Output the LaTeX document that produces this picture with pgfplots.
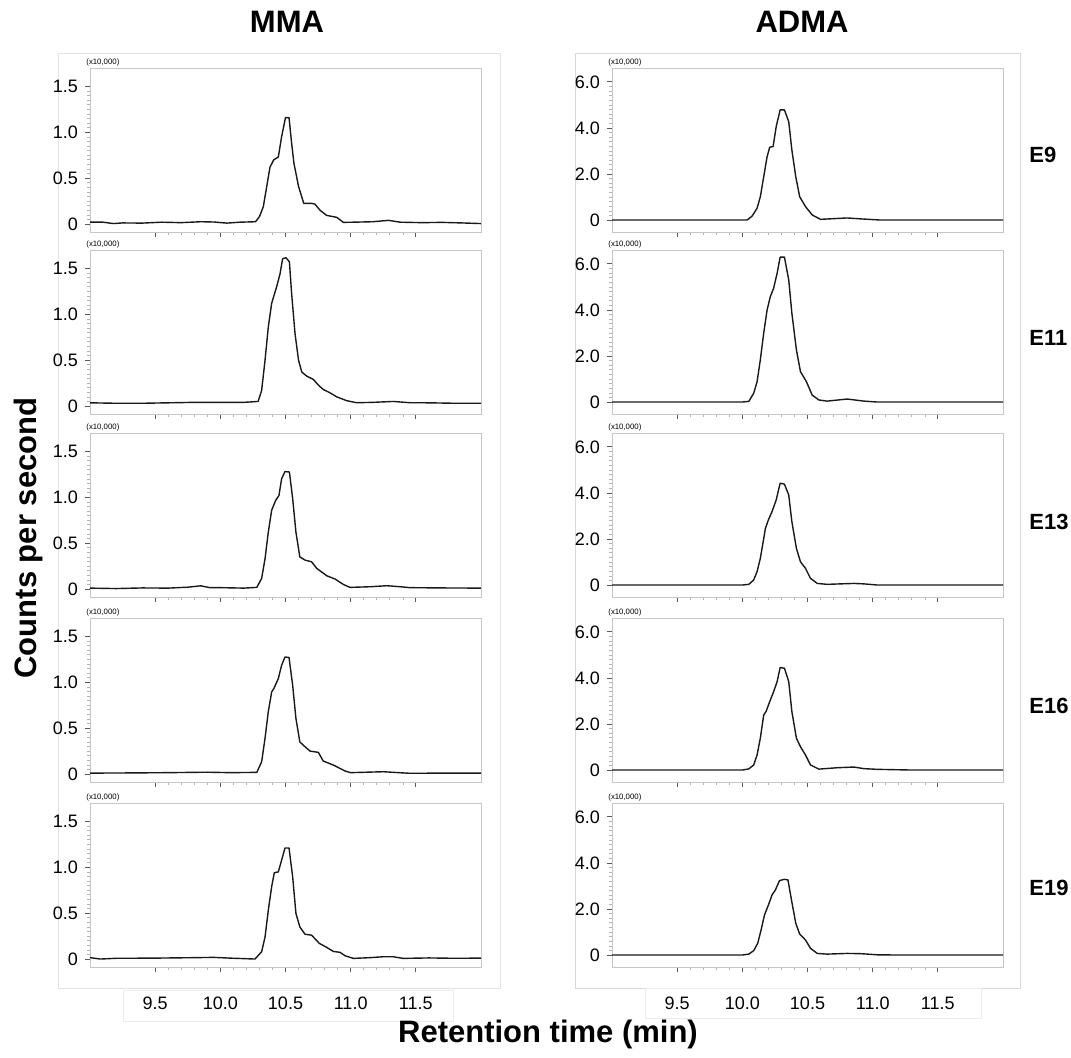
\documentclass[border=0pt]{standalone}
\usepackage{fontspec}
\setmainfont{Liberation Sans}
\usepackage{pgfplots}
\pgfplotsset{compat=1.18}

\pgfplotsset{
  chrom/.style={
    scale only axis, width=195.5pt, height=82pt,
    xmin=9, xmax=12,
    xtick={9.5,10,10.5,11,11.5}, minor x tick num=4,
    xticklabels={}, xtick pos=lower, ytick pos=left,
    tick align=outside,
    major tick length=2.5pt, minor tick length=1.4pt,
    axis line style={gray!45},
    tick style={gray!70!black, line width=0.35pt},
    minor tick style={gray!60, line width=0.3pt},
    clip=false,
    /pgf/number format/assume math mode=true,
    tick label style={font=\fontsize{9}{10}\selectfont, text=black},
    every axis plot post/.append style={black!90, line width=0.7pt, mark=none, line join=round},
  },
  mma/.style={ymin=-0.087, ymax=1.70, ytick={0,0.5,1,1.5},
    yticklabels={0,0.5,1.0,1.5}, minor y tick num=9},
  adma/.style={ymin=-0.52, ymax=6.6, ytick={0,2,4,6},
    yticklabels={0,2.0,4.0,6.0}, minor y tick num=9},
  bottomrow/.style={xticklabels={9.5,10.0,10.5,11.0,11.5},
    xticklabel style={yshift=-9pt}},
}
\newcommand{\tenk}{\node[anchor=south west, inner sep=0pt, xshift=-2pt, yshift=0.6pt,
  font=\fontsize{3.9}{4}\selectfont] at (rel axis cs:0,1) {(x10,000)};}

\begin{document}
\begin{tikzpicture}
\path[use as bounding box] (0,0) rectangle (535.5pt,-528.5pt);

% faint frames
\draw[gray!22, line width=0.4pt] (29pt,-26.5pt) rectangle (250pt,-494pt);
\draw[gray!30, line width=0.5pt] (287.5pt,-26.5pt) rectangle (510pt,-494pt);
\draw[gray!15, line width=0.4pt, fill=white] (61.5pt,-495pt) rectangle (226.5pt,-510.5pt);
\draw[gray!15, line width=0.4pt, fill=white] (322.5pt,-494pt) rectangle (490.5pt,-509pt);

% ---------------- MMA column ----------------
\begin{axis}[chrom, mma, at={(45pt,-116pt)}, anchor=south west]
\addplot coordinates {
(9.00,0.02) (9.10,0.02) (9.18,0.005) (9.25,0.012) (9.40,0.01) (9.55,0.02)
(9.70,0.015) (9.85,0.025) (9.95,0.022) (10.05,0.01) (10.10,0.015) (10.15,0.02)
(10.27,0.025) (10.30,0.08) (10.33,0.19) (10.356,0.41) (10.381,0.62) (10.41,0.70)
(10.445,0.73) (10.47,0.95) (10.50,1.16) (10.527,1.16) (10.547,0.88) (10.565,0.66)
(10.60,0.41) (10.64,0.225) (10.70,0.225) (10.726,0.217) (10.765,0.15) (10.816,0.094)
(10.893,0.073) (10.944,0.018) (11.02,0.02) (11.17,0.025) (11.29,0.04) (11.38,0.02)
(11.55,0.015) (11.70,0.018) (11.85,0.012) (12.00,0.005)
};
\tenk
\end{axis}

\begin{axis}[chrom, mma, at={(45pt,-207pt)}, anchor=south west]
\addplot coordinates {
(9.00,0.035) (9.2,0.03) (9.4,0.03) (9.6,0.035) (9.8,0.04) (10.0,0.04)
(10.18,0.04) (10.29,0.05) (10.317,0.17) (10.343,0.50) (10.368,0.86) (10.394,1.12)
(10.432,1.30) (10.458,1.44) (10.478,1.605) (10.504,1.616) (10.53,1.57) (10.547,1.225)
(10.573,0.79) (10.60,0.50) (10.625,0.37) (10.663,0.326) (10.714,0.29) (10.752,0.228)
(10.79,0.18) (10.84,0.145) (10.893,0.10) (10.97,0.058) (11.046,0.036) (11.17,0.04)
(11.327,0.05) (11.455,0.036) (11.6,0.035) (11.8,0.03) (12.0,0.03)
};
\tenk
\end{axis}

\begin{axis}[chrom, mma, at={(45pt,-298.5pt)}, anchor=south west]
\addplot coordinates {
(9.00,0.01) (9.2,0.005) (9.4,0.012) (9.6,0.01) (9.75,0.02) (9.85,0.035)
(9.92,0.015) (10.0,0.015) (10.18,0.01) (10.28,0.018) (10.317,0.116) (10.343,0.33)
(10.368,0.62) (10.394,0.86) (10.425,0.967) (10.45,1.02) (10.47,1.20) (10.496,1.28)
(10.53,1.275) (10.555,0.985) (10.58,0.62) (10.61,0.35) (10.65,0.315) (10.70,0.297)
(10.74,0.225) (10.816,0.145) (10.88,0.109) (10.944,0.05) (10.995,0.018) (11.15,0.025)
(11.277,0.036) (11.38,0.025) (11.455,0.015) (11.7,0.012) (12.0,0.01)
};
\tenk
\end{axis}

\begin{axis}[chrom, mma, at={(45pt,-391pt)}, anchor=south west]
\addplot coordinates {
(9.0,0.01) (9.3,0.012) (9.6,0.015) (9.9,0.02) (10.074,0.015) (10.28,0.018)
(10.317,0.134) (10.343,0.39) (10.368,0.68) (10.394,0.895) (10.41,0.93) (10.445,1.04)
(10.47,1.185) (10.496,1.275) (10.527,1.27) (10.555,0.967) (10.58,0.605) (10.61,0.35)
(10.65,0.297) (10.688,0.25) (10.752,0.236) (10.79,0.141) (10.867,0.098) (10.957,0.033)
(11.0,0.015) (11.25,0.025) (11.455,0.008) (11.7,0.01) (12.0,0.01)
};
\tenk
\end{axis}

\begin{axis}[chrom, mma, bottomrow, at={(45pt,-483.5pt)}, anchor=south west]
\addplot coordinates {
(9.0,0.015) (9.08,0.0) (9.2,0.008) (9.5,0.01) (9.8,0.015) (9.95,0.018)
(10.074,0.01) (10.266,0.0) (10.317,0.08) (10.343,0.24) (10.368,0.53) (10.394,0.79)
(10.414,0.94) (10.445,0.95) (10.47,1.076) (10.496,1.21) (10.527,1.21) (10.555,0.895)
(10.58,0.497) (10.61,0.35) (10.65,0.27) (10.70,0.26) (10.76,0.17) (10.816,0.127)
(10.867,0.083) (10.918,0.073) (10.957,0.036) (11.02,0.007) (11.15,0.015) (11.25,0.025)
(11.327,0.025) (11.40,0.007) (11.6,0.012) (11.8,0.008) (12.0,0.01)
};
\tenk
\end{axis}

% ---------------- ADMA column ----------------
\begin{axis}[chrom, adma, at={(306pt,-116pt)}, anchor=south west]
\addplot coordinates {
(9.0,0) (9.83,0) (10.036,0) (10.075,0.17) (10.113,0.51) (10.138,1.01)
(10.164,1.88) (10.19,2.75) (10.21,3.16) (10.236,3.19) (10.26,4.06) (10.29,4.78)
(10.323,4.78) (10.356,4.27) (10.38,3.04) (10.41,1.88) (10.44,1.01) (10.485,0.58)
(10.536,0.22) (10.60,0.03) (10.70,0.06) (10.805,0.09) (10.908,0.05) (11.06,0.0) (12.0,0)
};
\tenk
\end{axis}

\begin{axis}[chrom, adma, at={(306pt,-207pt)}, anchor=south west]
\addplot coordinates {
(9.0,0) (10.0,0) (10.05,0.03) (10.087,0.38) (10.113,0.88) (10.138,1.83)
(10.164,2.99) (10.19,4.0) (10.215,4.58) (10.24,4.94) (10.267,5.59) (10.29,6.29)
(10.323,6.29) (10.356,5.30) (10.38,3.86) (10.415,2.26) (10.446,1.32) (10.492,0.88)
(10.536,0.30) (10.587,0.09) (10.65,0.04) (10.805,0.13) (10.933,0.04) (11.036,0.0) (12.0,0)
};
\tenk
\end{axis}

\begin{axis}[chrom, adma, at={(306pt,-298.5pt)}, anchor=south west]
\addplot coordinates {
(9.0,0) (10.0,0) (10.05,0.03) (10.087,0.22) (10.113,0.58) (10.138,1.16)
(10.16,1.88) (10.177,2.46) (10.2,2.83) (10.228,3.19) (10.26,3.70) (10.29,4.42)
(10.323,4.38) (10.356,3.91) (10.38,2.75) (10.415,1.59) (10.446,1.01) (10.485,0.72)
(10.523,0.29) (10.575,0.07) (10.65,0.03) (10.856,0.07) (10.933,0.05) (11.036,0.0) (12.0,0)
};
\tenk
\end{axis}

\begin{axis}[chrom, adma, at={(306pt,-391pt)}, anchor=south west]
\addplot coordinates {
(9.0,0) (10.0,0) (10.05,0.05) (10.087,0.22) (10.113,0.65) (10.138,1.38)
(10.164,2.39) (10.182,2.54) (10.21,2.97) (10.24,3.40) (10.267,3.84) (10.29,4.45)
(10.323,4.42) (10.356,3.84) (10.38,2.54) (10.415,1.38) (10.446,1.01) (10.485,0.65)
(10.523,0.22) (10.587,0.04) (10.728,0.10) (10.856,0.13) (10.933,0.06) (11.036,0.03) (11.3,0) (12.0,0)
};
\tenk
\end{axis}

\begin{axis}[chrom, adma, bottomrow, at={(306pt,-483.5pt)}, anchor=south west]
\addplot coordinates {
(9.0,0) (10.0,0) (10.05,0.04) (10.087,0.19) (10.118,0.51) (10.144,1.09)
(10.17,1.74) (10.2,2.17) (10.228,2.61) (10.254,2.83) (10.285,3.23) (10.323,3.29)
(10.35,3.26) (10.377,2.39) (10.41,1.38) (10.44,0.91) (10.485,0.65) (10.523,0.29)
(10.575,0.07) (10.65,0.04) (10.805,0.07) (10.908,0.06) (11.036,0.01) (11.2,0) (12.0,0)
};
\tenk
\end{axis}

% titles and labels
\node[font=\fontsize{15.5}{18}\selectfont\bfseries] at (143.5pt,-11pt) {MMA};
\node[font=\fontsize{15.5}{18}\selectfont\bfseries] at (401pt,-11pt) {ADMA};
\node[font=\fontsize{15.5}{18}\selectfont\bfseries, rotate=90] at (14pt,-269pt) {Counts per second};
\node[font=\fontsize{15.5}{18}\selectfont\bfseries] at (274pt,-517pt) {Retention time (min)};
\foreach \lab/\yy in {E9/77.5, E11/169, E13/261, E16/353, E19/444}{
  \node[font=\fontsize{11}{13}\selectfont\bfseries, anchor=west, inner sep=0pt] at (514.5pt,-\yy pt) {\lab};
}
\end{tikzpicture}
\end{document}
